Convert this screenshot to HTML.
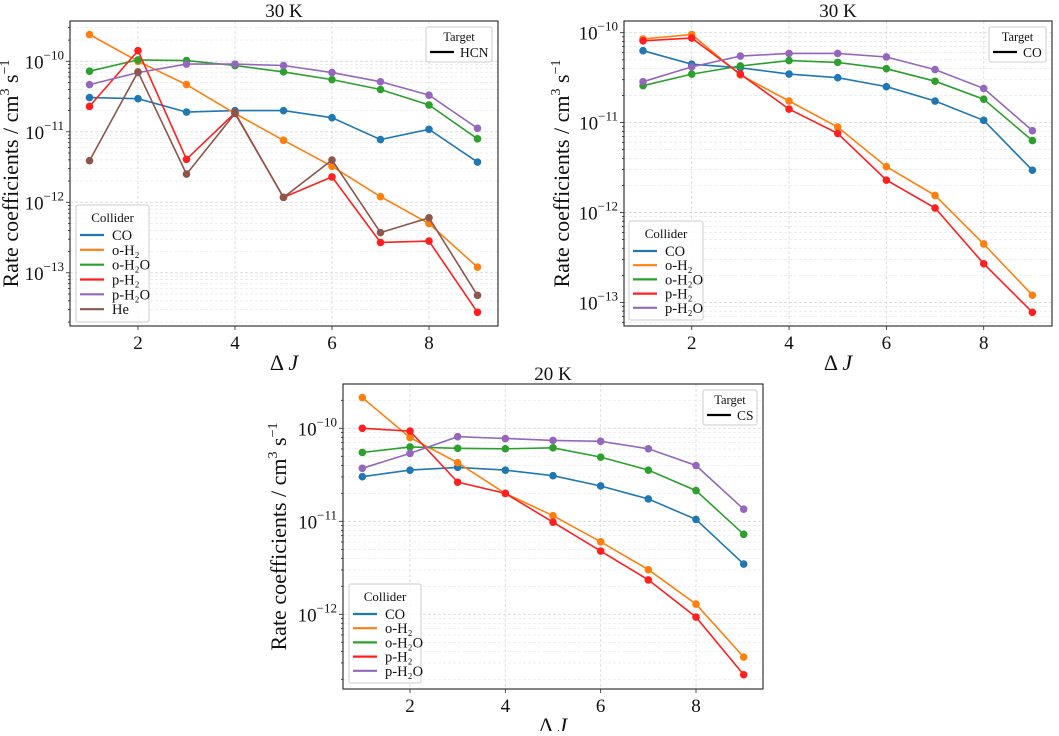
<!DOCTYPE html>
<html><head><meta charset="utf-8">
<style>
body{margin:0;background:#fff;width:1059px;height:731px;overflow:hidden;font-family:"Liberation Serif",serif;}
svg text{font-family:"Liberation Serif",serif;fill:#111;}
</style></head>
<body>
<svg id="fig" width="1059" height="731" viewBox="0 0 1059 731" xmlns="http://www.w3.org/2000/svg"></svg>
<script>
const deltaJ=[1,2,3,4,5,6,7,8,9];
const colliderNames=["CO","o-H₂","o-H₂O","p-H₂","p-H₂O","He"];
const colliderColors=["#1f77b4","#ff7f0e","#2ca02c","#ff1f1f","#9467bd","#8c564b"];
// log10 rate coefficients, panel HCN 30 K
const hcnCO=[-10.515,-10.53,-10.72,-10.70,-10.70,-10.80,-11.11,-10.965,-11.43];
const hcnOH2=[-9.62,-10.0,-10.33,-10.74,-11.12,-11.49,-11.92,-12.30,-12.92];
const hcnOH2O=[-10.14,-9.98,-9.99,-10.06,-10.15,-10.26,-10.40,-10.62,-11.10];
const hcnPH2=[-10.64,-9.85,-11.39,-10.73,-11.93,-11.64,-12.57,-12.55,-13.56];
const hcnPH2O=[-10.33,-10.16,-10.04,-10.04,-10.06,-10.16,-10.29,-10.48,-10.95];
const hcnHe=[-11.41,-10.15,-11.60,-10.74,-11.93,-11.40,-12.43,-12.22,-13.32];
// panel CO 30 K
const coCO=[-10.20,-10.35,-10.39,-10.46,-10.50,-10.60,-10.76,-10.975,-11.53];
const coOH2=[-10.07,-10.02,-10.47,-10.76,-11.05,-11.49,-11.81,-12.35,-12.92];
const coOH2O=[-10.59,-10.46,-10.37,-10.31,-10.33,-10.40,-10.54,-10.74,-11.20];
const coPH2=[-10.09,-10.06,-10.46,-10.85,-11.12,-11.64,-11.95,-12.57,-13.11];
const coPH2O=[-10.545,-10.38,-10.26,-10.23,-10.23,-10.27,-10.41,-10.62,-11.09];
// panel CS 20 K
const csCO=[-10.52,-10.45,-10.42,-10.45,-10.51,-10.62,-10.76,-10.98,-11.46];
const csOH2=[-9.67,-10.10,-10.37,-10.70,-10.94,-11.22,-11.52,-11.89,-12.46];
const csOH2O=[-10.26,-10.20,-10.215,-10.22,-10.21,-10.31,-10.45,-10.67,-11.14];
const csPH2=[-10.0,-10.03,-10.58,-10.70,-11.01,-11.32,-11.63,-12.03,-12.65];
const csPH2O=[-10.43,-10.27,-10.09,-10.11,-10.13,-10.14,-10.22,-10.40,-10.87];
const xTicks=[2,4,6,8];

const NS="http://www.w3.org/2000/svg";
const svg=document.getElementById('fig');
function mk(tag,attrs,parent){const e=document.createElementNS(NS,tag);for(const k in attrs)e.setAttribute(k,attrs[k]);(parent||svg).appendChild(e);return e;}

function panel(o){
  const g=mk('g',{});
  
  
  const xs=v=>o.x2px+(v-2)*o.xunit;
  const ys=l=>o.decTop+( -10-l)*o.dec;
  const L=o.left,R=o.right,T=o.top,B=o.bottom;
  for(let d=-14;d<=-9;d++){for(let m=1;m<10;m++){const l=d+Math.log10(m);const y=ys(l);if(y<T||y>B)continue;
    const ln=mk('line',{x1:L,x2:R,y1:y,y2:y,stroke:m==1?'#d8d8d8':'#e6e6e6','stroke-width':m==1?0.9:0.7,'stroke-dasharray':'3,2'},g);
    
    const tk=mk('line',{x1:L-(m==1?4:2),x2:L,y1:y,y2:y,stroke:'#222','stroke-width':0.8},g);
    
    if(m==1){const t=mk('text',{x:L-6,y:y+7,'text-anchor':'end','font-size':19},g);
      
      t.appendChild(document.createTextNode('10'));const s=mk('tspan',{dy:-9,'font-size':13},t);s.textContent='−'+(-d);}
  }}
  xTicks.forEach(v=>{const x=xs(v);
    const ln=mk('line',{x1:x,x2:x,y1:T,y2:B,stroke:'#dcdcdc','stroke-width':0.9,'stroke-dasharray':'3,2'},g);
    
    mk('line',{x1:x,x2:x,y1:B,y2:B+4,stroke:'#222','stroke-width':0.8},g);
    const t=mk('text',{x:x,y:B+23,'text-anchor':'middle','font-size':19},g);
    t.textContent=v;});
  o.series.forEach((arr,i)=>{
    const pts=deltaJ.map((v,j)=>xs(v).toFixed(1)+','+ys(arr[j]).toFixed(1)).join(' ');
    const pl=mk('polyline',{points:pts,fill:'none',stroke:colliderColors[i],'stroke-width':1.6},g);
    
    
    deltaJ.forEach((v,j)=>{const c=mk('circle',{cx:xs(v),cy:ys(arr[j]),r:3.8,fill:colliderColors[i]},g);
      });
  });
  const fr=mk('rect',{x:L,y:T,width:R-L,height:B-T,fill:'none',stroke:'#222','stroke-width':1.1},g);
  
  const tt=mk('text',{x:(L+R)/2,y:T-4,'text-anchor':'middle','font-size':19},g);
  tt.textContent=o.title;
  const xl=mk('text',{x:(L+R)/2,y:B+44,'text-anchor':'middle','font-size':22},g);
  
  xl.appendChild(document.createTextNode('Δ '));const ji=mk('tspan',{'font-style':'italic'},xl);ji.textContent='J';
  const cy=(T+B)/2;
  const yl=mk('text',{x:o.ylx,y:cy,'text-anchor':'middle','font-size':22,transform:`rotate(-90 ${o.ylx} ${cy})`},g);
  
  yl.appendChild(document.createTextNode('Rate coefficients / cm'));
  const s1=mk('tspan',{dy:-9,'font-size':14},yl);s1.textContent='3';
  const s2=mk('tspan',{dy:9},yl);s2.textContent=' s';
  const s3=mk('tspan',{dy:-9,'font-size':14},yl);s3.textContent='−1';
  const lg=mk('g',{},g);
  const n=o.series.length;const lx=o.lgX,ly=o.lgY,lw=o.lgW,lh=o.lgH;
  mk('rect',{x:lx,y:ly,width:lw,height:lh,fill:'#fff','fill-opacity':0.85,stroke:'#ccc','stroke-width':1,rx:2},lg);
  const lt=mk('text',{x:lx+lw/2,y:ly+17,'text-anchor':'middle','font-size':13},lg);lt.textContent='Collider';
  const step=(lh-28)/n;
  for(let i=0;i<n;i++){const yy=ly+30+i*step;
    const e=mk('g',{},lg);
    mk('line',{x1:lx+4,x2:lx+28,y1:yy,y2:yy,stroke:colliderColors[i],'stroke-width':2.2},e);
    const t=mk('text',{x:lx+36,y:yy+5,'font-size':14.5},e);t.textContent=colliderNames[i];}
  const tg=mk('g',{},g);
  mk('rect',{x:o.tgX,y:T+6,width:R-6-o.tgX,height:35,fill:'#fff',stroke:'#ccc','stroke-width':1,rx:2},tg);
  const t1=mk('text',{x:(o.tgX+R-6)/2,y:T+20,'text-anchor':'middle','font-size':12.5},tg);t1.textContent='Target';
  mk('line',{x1:o.tgX+4,x2:o.tgX+28,y1:T+31,y2:T+31,stroke:'#000','stroke-width':2.2},tg);
  const t2=mk('text',{x:o.tgX+34,y:T+36,'font-size':13.5},tg);t2.textContent=o.target;
}
panel({name:'panel-hcn-30k',title:'30 K',target:'HCN',left:70,right:498,top:21,bottom:326,x2px:138,xunit:48.5,decTop:61.3,dec:70.5,ylx:18,
  series:[hcnCO,hcnOH2,hcnOH2O,hcnPH2,hcnPH2O,hcnHe],lgX:76,lgY:205,lgW:73,lgH:117,tgX:426});
panel({name:'panel-co-30k',title:'30 K',target:'CO',left:624,right:1052,top:21,bottom:326,x2px:691.7,xunit:48.67,decTop:32.7,dec:89.9,ylx:569,
  series:[coCO,coOH2,coOH2O,coPH2,coPH2O],lgX:629,lgY:221,lgW:74,lgH:99,tgX:989});
panel({name:'panel-cs-20k',title:'20 K',target:'CS',left:343,right:763,top:384,bottom:689,x2px:410,xunit:47.67,decTop:428.3,dec:93,ylx:286,
  series:[csCO,csOH2,csOH2O,csPH2,csPH2O],lgX:349,lgY:584,lgW:72,lgH:99,tgX:703});
</script>
</body></html>
